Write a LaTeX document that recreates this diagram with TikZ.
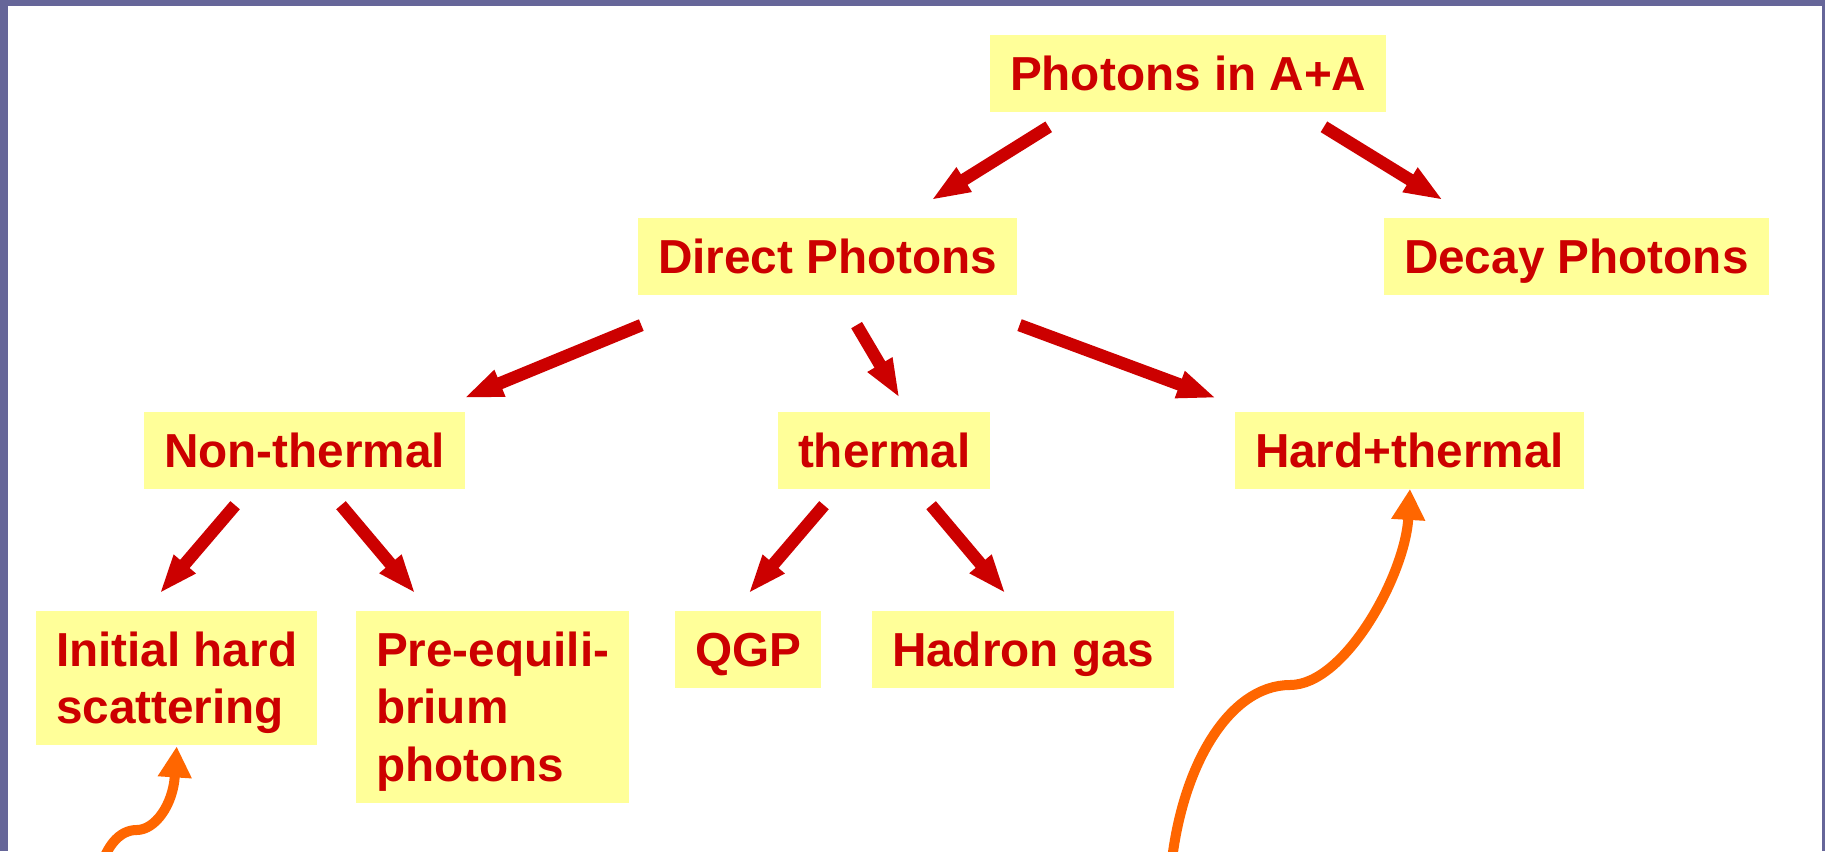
\documentclass[tikz,border=0pt]{standalone}
\usepackage{fontspec}
\setmainfont{Liberation Sans}
\usetikzlibrary{arrows.meta,calc}
\definecolor{bord}{HTML}{666699}
\definecolor{boxy}{HTML}{FFFF99}
\definecolor{tred}{HTML}{CC0000}
\definecolor{orng}{HTML}{FF6600}
\newcommand\bstrut{\rule[-10.1pt]{0pt}{53.3pt}}
\begin{document}
\begin{tikzpicture}[x=1pt,y=-1pt,
  lbl/.style={fill=boxy, text=tred, font=\fontsize{47.7}{57.5}\selectfont\bfseries, align=left, inner xsep=20pt, inner ysep=11.8pt, outer sep=0pt, anchor=north west},
  rarr/.style={draw=tred, line width=12.5pt, -{Triangle[width=26pt,length=39pt]}},
  oarr/.style={draw=orng, line width=10pt, -{Triangle[width=32pt,length=31pt]}}]
\fill[white] (0,0) rectangle (1825,851);
\useasboundingbox (0,0) rectangle (1825,851);
\clip (0,0) rectangle (1825,851);
\fill[bord] (0,0) rectangle (1825,6);
\fill[bord] (0,0) rectangle (8,851);
\fill[bord] (1822,0) rectangle (1825,851);

\node[lbl] (pa) at (990,35) {\bstrut Photons in A+A};
\node[lbl] (dp) at (638,218) {\bstrut Direct Photons};
\node[lbl] (dc) at (1384,218) {\bstrut Decay Photons};
\node[lbl] (nt) at (144,412) {\bstrut Non-thermal};
\node[lbl] (th) at (778,412) {\bstrut thermal};
\node[lbl] (ht) at (1235,412) {\bstrut Hard+thermal};
\node[lbl] (ih) at (36,611) {\bstrut Initial hard\\\bstrut scattering};
\node[lbl] (pe) at (356,611) {\bstrut Pre-equili-\\\bstrut brium\\\bstrut photons};
\node[lbl] (qgp) at (675,611) {\bstrut QGP};
\node[lbl] (hg) at (872,611) {\bstrut Hadron gas};

\draw[rarr] ($(pa.south west)+(58.7,14.9)$) -- ($(dp.north west)+(293.1,-17.8)$);
\draw[rarr] ($(pa.south east)+(-62.5,14.9)$) -- ($(dc.north west)+(59.2,-17.8)$);
\draw[rarr] ($(dp.south west)+(3.3,30.2)$) -- ($(nt.north east)+(-1,-13.9)$);
\draw[rarr] ($(dp.south west)+(218.6,30.2)$) -- ($(th.north west)+(121.7,-13.9)$);
\draw[rarr] ($(dp.south east)+(2.3,30.2)$) -- ($(ht.north west)+(-18.7,-13.9)$);
\draw[rarr] ($(nt.south west)+(91.1,16.3)$) -- ($(ih.north west)+(123.5,-17.4)$);
\draw[rarr] ($(nt.south west)+(197,16.3)$) -- ($(pe.north west)+(59.5,-17.4)$);
\draw[rarr] ($(th.south west)+(46,16.3)$) -- ($(qgp.north west)+(73.4,-17.4)$);
\draw[rarr] ($(th.south west)+(153.1,16.3)$) -- ($(hg.north west)+(133.6,-17.4)$);

\coordinate (c1s) at (96,885);
\coordinate (c2s) at (1170,880);
\draw[oarr] (c1s) .. controls (104,845) and (120,830) .. (136.7,830) .. controls (155,830) and (173,805) .. ($(ih.south west)+(140.7,1)$);
\draw[oarr] (c2s) .. controls (1178,770) and (1228,685) .. (1290,685) .. controls (1345,685) and (1405,575) .. ($(ht.south west)+(175,0)$);
\end{tikzpicture}
\end{document}
